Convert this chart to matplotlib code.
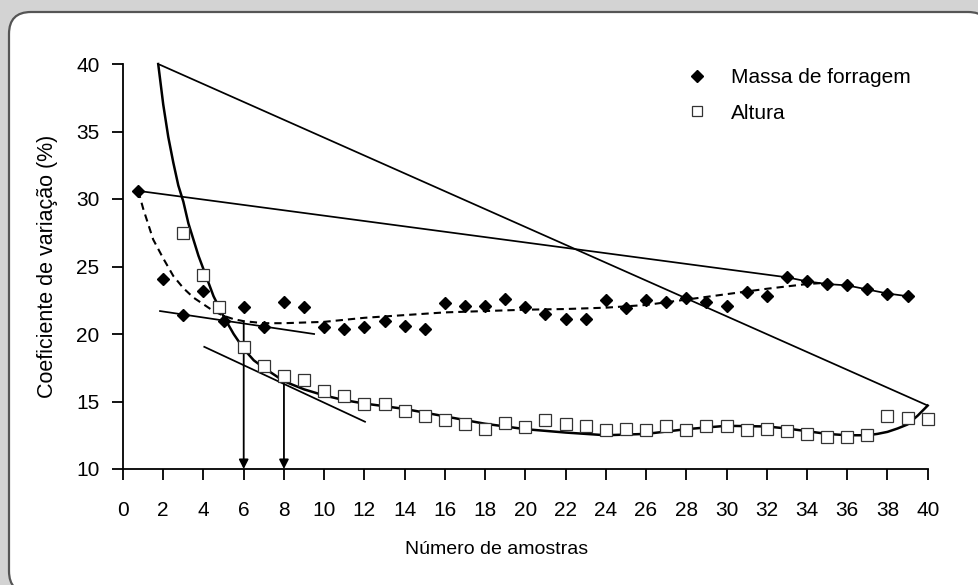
import matplotlib
matplotlib.use("Agg")
import matplotlib.pyplot as plt
from matplotlib.patches import FancyBboxPatch
from matplotlib.lines import Line2D
from matplotlib.transforms import IdentityTransform

plt.rcParams['font.family'] = ['Liberation Sans', 'DejaVu Sans']

# CV (%) da massa de forragem por numero de amostras
massa_x = [0.76, 2, 3, 4, 5, 6, 7, 8, 9, 10, 11, 12, 13, 14, 15, 16, 17, 18, 19, 20,
           21, 22, 23, 24, 25, 26, 27, 28, 29, 30, 31, 32, 33, 34, 35, 36, 37, 38, 39]
massa_y = [30.6, 24.1, 21.4, 23.2, 21.0, 22.0, 20.5, 22.4, 22.0, 20.5, 20.4, 20.5, 21.0,
           20.6, 20.4, 22.3, 22.1, 22.1, 22.6, 22.0, 21.5, 21.1, 21.1, 22.5, 21.9, 22.5,
           22.4, 22.7, 22.4, 22.1, 23.1, 22.8, 24.2, 23.9, 23.7, 23.6, 23.3, 23.0, 22.8]

# CV (%) da altura
altura_x = [3, 4, 4.75, 6, 7, 8, 9, 10, 11, 12, 13, 14, 15, 16, 17, 18, 19, 20, 21, 22,
            23, 24, 25, 26, 27, 28, 29, 30, 31, 32, 33, 34, 35, 36, 37, 38, 39, 40]
altura_y = [27.5, 24.4, 22.0, 19.05, 17.6, 16.9, 16.6, 15.8, 15.4, 14.8, 14.8, 14.3, 13.9,
            13.6, 13.3, 13.0, 13.4, 13.1, 13.6, 13.3, 13.2, 12.9, 13.0, 12.9, 13.2, 12.9,
            13.2, 13.2, 12.9, 13.0, 12.8, 12.6, 12.4, 12.35, 12.55, 13.9, 13.8, 13.7]

# curvas ajustadas
ajuste_massa_x = [0.76, 1.0, 1.5, 2.0, 2.5, 3.0, 3.5, 4.0, 4.5, 5.0, 5.5, 6.0, 7.0, 8.0,
                  9.0, 10.0, 12.0, 14.0, 16.0, 18.0, 20.0, 22.0, 24.0, 26.0, 28.0, 30.0,
                  32.0, 34.0, 35.0]
ajuste_massa_y = [30.6, 29.3, 27.0, 25.6, 24.3, 23.4, 22.7, 22.2, 21.7, 21.35, 21.1, 20.95,
                  20.8, 20.8, 20.85, 20.9, 21.2, 21.4, 21.6, 21.7, 21.8, 21.85, 21.95,
                  22.15, 22.55, 22.95, 23.35, 23.7, 23.8]

ajuste_altura_x = [1.75, 2.0, 2.25, 2.5, 2.75, 3.0, 3.25, 3.5, 3.75, 4.0, 4.25, 4.5, 5.0,
                   5.5, 6.0, 6.5, 7.0, 8.0, 9.0, 10.0, 11.0, 12.0, 13.0, 14.0, 16.0, 18.0,
                   20.0, 22.0, 24.0, 26.0, 28.0, 30.0, 32.0, 33.0, 34.0, 35.0, 36.0, 37.0,
                   37.5, 38.0, 38.5, 39.0, 39.5, 40.0]
ajuste_altura_y = [40.0, 37.0, 34.6, 32.7, 31.0, 29.8, 28.2, 27.0, 25.8, 24.8, 23.8, 22.8,
                   21.3, 20.0, 18.9, 18.05, 17.5, 16.5, 15.9, 15.45, 15.1, 14.85, 14.65,
                   14.45, 13.9, 13.35, 12.95, 12.7, 12.5, 12.6, 12.95, 13.2, 13.15, 13.0,
                   12.8, 12.6, 12.5, 12.5, 12.6, 12.75, 13.0, 13.3, 13.95, 14.7]

# tangentes no ponto de maxima curvatura
tang_massa_x = [1.84, 9.5]
tang_massa_y = [21.7, 20.0]
tang_altura_x = [4.04, 12.03]
tang_altura_y = [19.05, 13.5]

# numero otimo de amostras
otimo_x = [6, 8]
otimo_y = [20.85, 16.5]

W, H = 979, 585
fig = plt.figure(figsize=(W / 100, H / 100), dpi=100)
fig.patch.set_facecolor('#d3d3d3')

moldura = FancyBboxPatch((9, -8), 981, H - 12 + 8,
                         boxstyle="round,pad=0,rounding_size=22",
                         transform=IdentityTransform(), facecolor='white',
                         edgecolor='#555555', linewidth=1.6, zorder=-5)
fig.add_artist(moldura)

ax = fig.add_axes([123 / W, 1 - 469 / H, (927.7 - 123) / W, (469 - 64) / H])
ax.set_facecolor('none')

# retas ligando extremos das curvas
ax.plot([ajuste_altura_x[0], ajuste_altura_x[-1]], [ajuste_altura_y[0], ajuste_altura_y[-1]],
        color='k', lw=1.25, zorder=2)
ax.plot([massa_x[0], massa_x[32]], [massa_y[0], massa_y[32]], color='k', lw=1.25, zorder=2)
ax.plot(massa_x[32:], massa_y[32:], color='k', lw=1.25, zorder=2)

ax.plot(tang_massa_x, tang_massa_y, color='k', lw=1.25, zorder=2)
ax.plot(tang_altura_x, tang_altura_y, color='k', lw=1.25, zorder=2)

ax.plot(ajuste_massa_x, ajuste_massa_y, color='k', lw=1.5, ls=(0, (3.5, 2.4)), zorder=2)
ax.plot(ajuste_altura_x, ajuste_altura_y, color='k', lw=1.8, zorder=2, clip_on=False)

for xo, yo in zip(otimo_x, otimo_y):
    ax.annotate('', xy=(xo, 10), xytext=(xo, yo),
                arrowprops=dict(arrowstyle='-|>,head_length=0.55,head_width=0.28',
                                color='k', lw=1.3, shrinkA=0, shrinkB=0,
                                mutation_scale=10),
                zorder=3)

ax.plot(massa_x, massa_y, ls='none', marker='D', ms=6.3, color='k', zorder=4, clip_on=False)
ax.plot(altura_x, altura_y, ls='none', marker='s', ms=8, mfc='white', mec='#333333',
        mew=0.9, zorder=4, clip_on=False)

ax.set_xlim(0, 40)
ax.set_ylim(10, 40)
ax.set_xticks(range(0, 41, 2))
ax.set_yticks(range(10, 41, 5))
for s in ['top', 'right']:
    ax.spines[s].set_visible(False)
for s in ['left', 'bottom']:
    ax.spines[s].set_linewidth(1.3)
ax.tick_params(direction='out', length=8, width=1.3, labelsize=15, color='k')
ax.tick_params(axis='x', pad=15)
ax.tick_params(axis='y', pad=9)

ax.set_xlabel('Número de amostras', fontsize=14)
ax.xaxis.set_label_coords((497 - 123) / (927.7 - 123), -(549 - 469) / (469 - 64))
ax.xaxis.label.set_va('center')
ax.set_ylabel('Coeficiente de variação (%)', fontsize=15.5, labelpad=13)

handles = [Line2D([], [], ls='none', marker='D', ms=5.8, color='k'),
           Line2D([], [], ls='none', marker='s', ms=7.2, mfc='white', mec='#333333', mew=0.9)]
ax.legend(handles, ['Massa de forragem', 'Altura'], loc='upper left',
          bbox_to_anchor=(0.688, 1.015), frameon=False, fontsize=15,
          handlelength=1.0, handletextpad=1.1, labelspacing=0.78, borderpad=0)

fig.savefig('out.png', dpi=100, facecolor=fig.get_facecolor())
